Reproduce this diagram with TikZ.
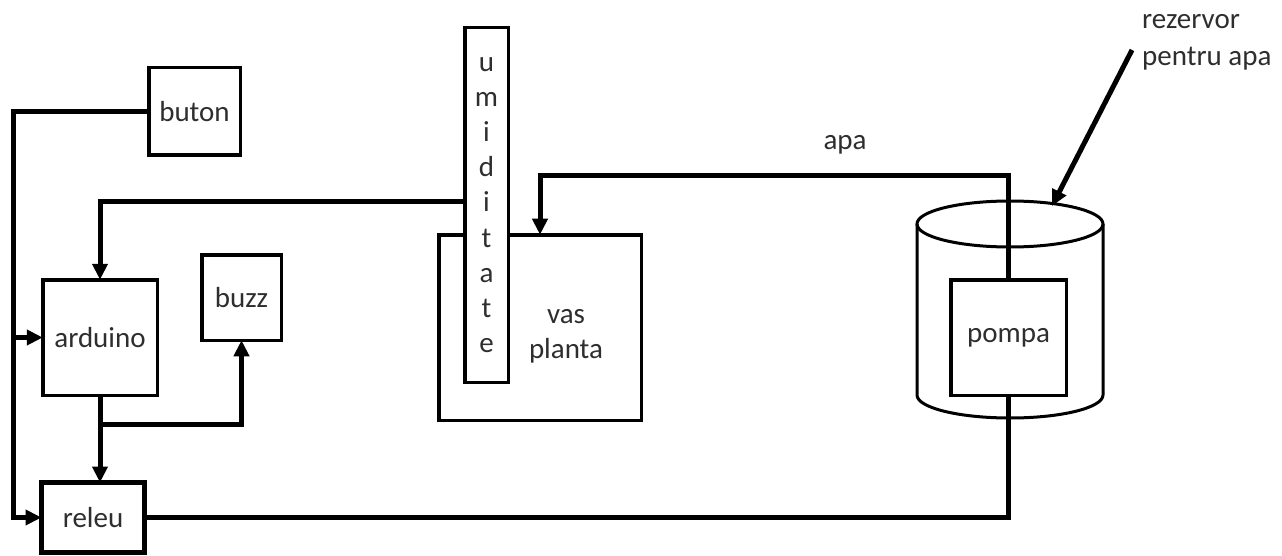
\documentclass[tikz,border=0pt]{standalone}
\usepackage{fontspec}
\setmainfont{Carlito}
\usetikzlibrary{arrows.meta}
\begin{document}
\begin{tikzpicture}[x=1pt,y=-1pt,
  txt/.style={font=\fontsize{29}{34}\selectfont, text=black!82},
  box/.style={draw, line width=3.5pt, fill=white, inner sep=0pt, outer sep=0pt, txt},
  wire/.style={line width=5pt, line join=miter},
  arr/.style={wire, -{Triangle[length=16pt,width=15pt]}},
  lbl/.style={txt, inner sep=0pt}]
\useasboundingbox (0,0) rectangle (1282,556);
\fill[white] (0,0) rectangle (1282,556);

% tank (cylinder)
\draw[line width=3pt] (1010,224) ellipse [x radius=93, y radius=23];
\draw[line width=3pt] (917,224) -- (917,395)
  .. controls (917,407.7) and (958.6,418) .. (1010,418)
  .. controls (1061.4,418) and (1103,407.7) .. (1103,395) -- (1103,224);

% boxes
\node[box, minimum width=91.5pt, minimum height=87.5pt] (buton) at (194.5,111.5) {buton};
\node[box, minimum width=114.5pt, minimum height=115.5pt] (arduino) at (100,337.5) {arduino};
\node[box, minimum width=79.5pt, minimum height=85.5pt] (buzz) at (241.5,297.5) {buzz};
\node[box, line width=5pt, minimum width=103pt, minimum height=70pt] (releu) at (93,517.5) {releu};
\node[box, minimum width=202.5pt, minimum height=185.5pt] (vas) at (540,327.5) {};
\node[lbl, align=center, font=\fontsize{29}{35}\selectfont] (vastxt) at (566,336) {vas\\planta};
\node[box, minimum width=43.5pt, minimum height=354.5pt, align=center,
      font=\fontsize{29}{35.2}\selectfont] (umid) at (486.5,205) {u\\m\\i\\d\\i\\t\\a\\t\\e};
\node[box, minimum width=115.5pt, minimum height=115.5pt] (pompa) at (1008.5,337.5) {pompa};

% labels
\node[lbl] (apa) at (845,145) {apa};
\node[lbl, anchor=west, align=left, font=\fontsize{29}{37}\selectfont] (rez) at (1142,42) {rezervor\\pentru apa};

% connectors
\coordinate (busTop) at (13,111.5);
\coordinate (busA) at (busTop |- arduino.west);
\coordinate (busR) at (busTop |- releu.west);
\draw[arr] (buton.west) -- (busTop) -- (busR) -- (releu.west);
\draw[arr] (busA) -- (arduino.west);

\draw[arr] (arduino.south) -- (arduino.south |- releu.north);
\coordinate (jB) at (100,424);
\draw[arr] (jB) -| (buzz.south);

\coordinate (uOut) at (464.75,202);
\draw[arr] (uOut) -| (arduino.north);

\coordinate (apaY) at (0,176);
\draw[arr] (pompa.north) -- (pompa.north |- apaY) -| (vas.north);

\draw[wire] (releu.east) -| (pompa.south);

\coordinate (rzA) at (1132,50);
\coordinate (rzB) at (1052,206);
\draw[arr] (rzA) -- (rzB);
\end{tikzpicture}
\end{document}
